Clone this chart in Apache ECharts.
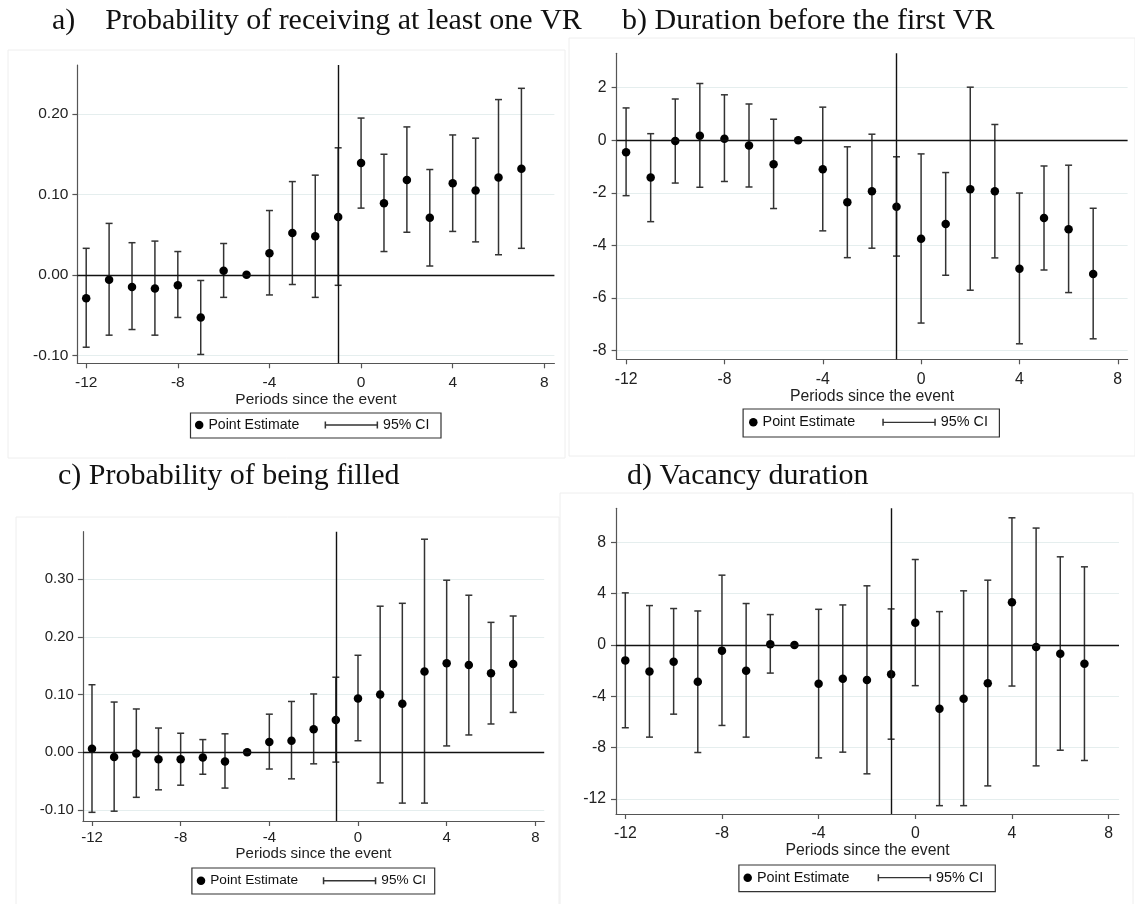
<!DOCTYPE html>
<html>
<head>
<meta charset="utf-8">
<script src="https://cdn.jsdelivr.net/npm/echarts@6/dist/echarts.min.js"></script>
<style>
  html, body { margin: 0; padding: 0; background: #fff; }
  #chart { width: 1135px; height: 904px; }
</style>
</head>
<body>
<div id="chart"></div>
<script>
// Event-study estimates: periods relative to the event (period -5 is the reference)
const periods = [-12, -11, -10, -9, -8, -7, -6, -5, -4, -3, -2, -1, 0, 1, 2, 3, 4, 5, 6, 7];
const xTicks = [-12, -8, -4, 0, 4, 8];

// a) Probability of receiving at least one VR
const recvEst = [-0.029, -0.006, -0.015, -0.017, -0.013, -0.053, 0.005, 0, 0.027, 0.052, 0.048, 0.072, 0.139, 0.089, 0.118, 0.071, 0.114, 0.105, 0.121, 0.132];
const recvLo  = [-0.090, -0.075, -0.068, -0.075, -0.053, -0.099, -0.028, null, -0.025, -0.012, -0.028, -0.013, 0.083, 0.029, 0.053, 0.011, 0.054, 0.041, 0.025, 0.033];
const recvHi  = [0.033, 0.064, 0.040, 0.042, 0.029, -0.007, 0.039, null, 0.080, 0.116, 0.124, 0.158, 0.195, 0.150, 0.184, 0.131, 0.174, 0.170, 0.218, 0.232];
const recvTicks = [-0.1, 0, 0.1, 0.2];

// b) Duration before the first VR
const durEst = [-0.46, -1.42, -0.03, 0.17, 0.06, -0.20, -0.91, 0, -1.10, -2.36, -1.94, -2.53, -3.75, -3.19, -1.87, -1.94, -4.89, -2.96, -3.39, -5.09];
const durLo  = [-2.11, -3.10, -1.63, -1.79, -1.57, -1.78, -2.60, null, -3.45, -4.47, -4.11, -4.41, -6.96, -5.14, -5.71, -4.48, -7.75, -4.94, -5.80, -7.56];
const durHi  = [1.23, 0.25, 1.57, 2.16, 1.73, 1.38, 0.80, null, 1.26, -0.25, 0.23, -0.63, -0.52, -1.23, 2.02, 0.60, -2.01, -0.98, -0.95, -2.59];
const durTicks = [-8, -6, -4, -2, 0, 2];

// c) Probability of being filled
const fillEst = [0.006, -0.008, -0.002, -0.012, -0.012, -0.009, -0.016, 0, 0.018, 0.020, 0.040, 0.056, 0.093, 0.100, 0.084, 0.140, 0.154, 0.151, 0.137, 0.153];
const fillLo  = [-0.104, -0.102, -0.078, -0.065, -0.057, -0.038, -0.062, null, -0.029, -0.046, -0.020, -0.017, 0.020, -0.053, -0.088, -0.088, 0.011, 0.030, 0.049, 0.069];
const fillHi  = [0.117, 0.087, 0.075, 0.042, 0.033, 0.022, 0.032, null, 0.066, 0.088, 0.101, 0.130, 0.168, 0.253, 0.258, 0.369, 0.298, 0.272, 0.225, 0.236];
const fillTicks = [-0.1, 0, 0.1, 0.2, 0.3];

// d) Vacancy duration
const vacEst = [-1.20, -2.06, -1.30, -2.86, -0.44, -2.00, 0.05, 0, -3.02, -2.63, -2.73, -2.29, 1.74, -4.97, -4.19, -2.99, 3.33, -0.16, -0.68, -1.46];
const vacLo  = [-6.45, -7.18, -5.39, -8.38, -6.27, -7.18, -2.19, null, -8.80, -8.35, -10.04, -7.34, -3.17, -12.52, -12.52, -10.98, -3.20, -9.42, -8.20, -9.00];
const vacHi  = [4.06, 3.07, 2.84, 2.65, 5.44, 3.23, 2.37, null, 2.78, 3.12, 4.61, 2.81, 6.66, 2.60, 4.22, 5.05, 9.91, 9.11, 6.87, 6.09];
const vacTicks = [-12, -8, -4, 0, 4, 8];

const titles = ['a)    Probability of receiving at least one VR', 'b) Duration before the first VR', 'c) Probability of being filled', 'd) Vacancy duration'];
const xName = 'Periods since the event';
const eventPeriod = -1;

// Panel layout (pixels) and axis extents
const panels = [
  { est: recvEst, lo: recvLo, hi: recvHi, ticks: recvTicks, dec: 2,
    grid: { left: 77.4, top: 65, width: 477, height: 298.3 }, xr: [-12.384, 8.44], yr: [-0.110, 0.261],
    fs: 15.5, lm: 11.6, ng: 25.6, ym: 9,
    title: { x: 52, y: 21 }, frame: [8, 50, 557, 408],
    legend: { x: 190.5, y: 413, w: 250.5, h: 25, dot: 8.7, ci: 134.1 } },
  { est: durEst, lo: durLo, hi: durHi, ticks: durTicks, dec: 0,
    grid: { left: 616.6, top: 53.3, width: 511, height: 306 }, xr: [-12.386, 8.40], yr: [-8.34, 3.31],
    fs: 15.8, lm: 12.1, ng: 25.5, ym: 10,
    title: { x: 622, y: 21 }, frame: [569, 38, 566, 418],
    legend: { x: 743.1, y: 409, w: 256.3, h: 28, dot: 10.2, ci: 139.2 } },
  { est: fillEst, lo: fillLo, hi: fillHi, ticks: fillTicks, dec: 2,
    grid: { left: 82.9, top: 531.7, width: 461.3, height: 289.3 }, xr: [-12.41, 8.40], yr: [-0.119, 0.382],
    fs: 15, lm: 9.8, ng: 24.2, ym: 9,
    title: { x: 58, y: 476 }, frame: [16, 517, 543, 390],
    legend: { x: 191.9, y: 868, w: 242.8, h: 26, dot: 9.1, ci: 130.9 } },
  { est: vacEst, lo: vacLo, hi: vacHi, ticks: vacTicks, dec: 0,
    grid: { left: 616, top: 508.3, width: 503, height: 305.7 }, xr: [-12.385, 8.43], yr: [-13.17, 10.65],
    fs: 15.8, lm: 11.4, ng: 26.4, ym: 10,
    title: { x: 627, y: 476 }, frame: [560, 493, 573, 414],
    legend: { x: 738.9, y: 865, w: 256.4, h: 26.7, dot: 8.8, ci: 138.7 } }
];

const SANS = 'Liberation Sans, Arial, sans-serif';
const SERIF = 'Liberation Serif, Times New Roman, serif';
const AXIS_COLOR = '#555';
const BAR_COLOR = '#333';
const ciIcon = 'path://M0,0H1.5V7H0Z M0,2.9H53.5V4.2H0Z M52,0H53.5V7H52Z';

// Vertical confidence interval with end caps
function renderCI(params, api) {
  const x = api.value(0);
  const top = api.coord([x, api.value(2)]);
  const bot = api.coord([x, api.value(1)]);
  const hw = 3.5;
  const style = { stroke: BAR_COLOR, lineWidth: 1.5, fill: null };
  return {
    type: 'group',
    children: [
      { type: 'line', shape: { x1: top[0], y1: top[1], x2: bot[0], y2: bot[1] }, style },
      { type: 'line', shape: { x1: top[0] - hw, y1: top[1], x2: top[0] + hw, y2: top[1] }, style },
      { type: 'line', shape: { x1: bot[0] - hw, y1: bot[1], x2: bot[0] + hw, y2: bot[1] }, style }
    ]
  };
}

const grids = [], xAxes = [], yAxes = [], series = [], legends = [], graphics = [];

panels.forEach((p, i) => {
  grids.push(Object.assign({ containLabel: false }, p.grid));

  xAxes.push({
    type: 'value', gridIndex: i, min: p.xr[0], max: p.xr[1],
    name: xName, nameLocation: 'middle', nameGap: p.ng,
    nameTextStyle: { fontSize: p.fs, color: '#222', fontFamily: SANS },
    axisLine: { show: true, onZero: false, lineStyle: { color: AXIS_COLOR, width: 1.2 } },
    axisTick: { show: true, customValues: xTicks, length: 5, lineStyle: { color: AXIS_COLOR, width: 1.2 } },
    axisLabel: { customValues: xTicks, margin: p.lm, fontSize: p.fs, color: '#222', fontFamily: SANS },
    splitLine: { show: false }
  });

  yAxes.push({
    type: 'value', gridIndex: i, min: p.yr[0], max: p.yr[1],
    axisLine: { show: true, onZero: false, lineStyle: { color: AXIS_COLOR, width: 1.2 } },
    axisTick: { show: true, customValues: p.ticks, length: 5, lineStyle: { color: AXIS_COLOR, width: 1.2 } },
    axisLabel: { customValues: p.ticks, margin: p.ym, fontSize: p.fs, color: '#222', fontFamily: SANS,
                 formatter: v => v.toFixed(p.dec) },
    splitLine: { show: true, lineStyle: { color: '#e5eeee', width: 1.2 } }
  });

  const ciData = [];
  periods.forEach((t, k) => { if (p.lo[k] !== null) ciData.push([t, p.lo[k], p.hi[k]]); });

  series.push({
    type: 'custom', name: '95% CI', xAxisIndex: i, yAxisIndex: i,
    renderItem: renderCI, data: ciData, encode: { x: 0, y: [1, 2] },
    itemStyle: { color: BAR_COLOR }, silent: true, z: 3
  });

  series.push({
    type: 'scatter', name: 'Point Estimate', xAxisIndex: i, yAxisIndex: i,
    data: periods.map((t, k) => [t, p.est[k]]),
    symbol: 'circle', symbolSize: 8.5, itemStyle: { color: '#000', opacity: 1 }, z: 4,
    markLine: {
      silent: true, symbol: 'none', label: { show: false },
      lineStyle: { color: '#111', width: 1.4, type: 'solid' },
      data: [{ xAxis: eventPeriod }, { yAxis: 0 }]
    }
  });

  const L = p.legend;
  const lfs = p.fs * 0.91;
  legends.push({
    left: L.x + L.dot - 4.25, top: L.y + L.h / 2 - lfs / 2 - 0.5, padding: 0, selectedMode: false,
    itemWidth: 8.5, itemHeight: 8.5,
    textStyle: { fontSize: lfs, color: '#111', fontFamily: SANS },
    data: [{ name: 'Point Estimate', icon: 'circle', itemStyle: { color: '#000' } }]
  });
  legends.push({
    left: L.x + L.ci, top: L.y + L.h / 2 - lfs / 2 - 0.5, padding: 0, selectedMode: false,
    itemWidth: 53.5, itemHeight: 7,
    textStyle: { fontSize: lfs, color: '#111', fontFamily: SANS },
    data: [{ name: '95% CI', icon: ciIcon, itemStyle: { color: BAR_COLOR } }]
  });

  // Faint panel frame
  graphics.push({
    type: 'rect', z: -10, silent: true,
    shape: { x: p.frame[0], y: p.frame[1], width: p.frame[2], height: p.frame[3] },
    style: { fill: null, stroke: '#eeeeee', lineWidth: 1 }
  });
  // Legend border
  graphics.push({
    type: 'rect', silent: true,
    shape: { x: L.x, y: L.y, width: L.w, height: L.h },
    style: { fill: null, stroke: '#333', lineWidth: 1.2 }
  });
  // Panel heading
  graphics.push({
    type: 'text', silent: true, x: p.title.x, y: p.title.y,
    style: { text: titles[i], font: '30px ' + SERIF, fill: '#111', textVerticalAlign: 'middle' }
  });
});

const chart = echarts.init(document.getElementById('chart'), null, { renderer: 'canvas' });
chart.setOption({
  backgroundColor: '#fff',
  animation: false,
  grid: grids,
  xAxis: xAxes,
  yAxis: yAxes,
  legend: legends,
  series: series,
  graphic: graphics
});
</script>
</body>
</html>
